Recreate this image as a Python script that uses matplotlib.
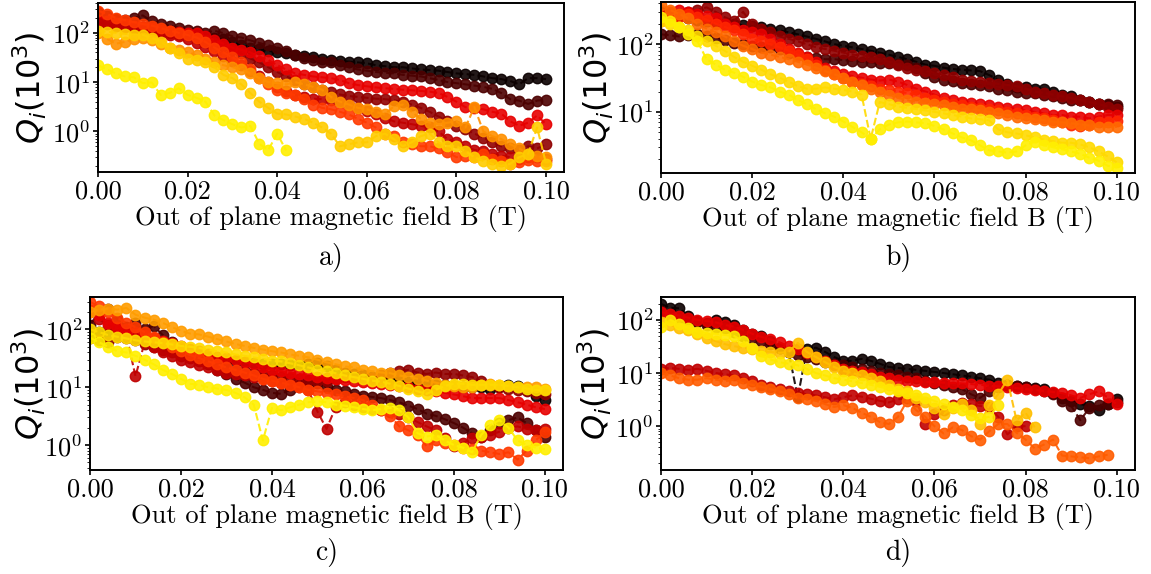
import numpy as np
import matplotlib.pyplot as plt

plt.rcParams['font.family'] = 'serif'
plt.rcParams['font.serif'] = ['cmr10']
plt.rcParams['mathtext.fontset'] = 'cm'
plt.rcParams['axes.formatter.use_mathtext'] = True
plt.rcParams['axes.unicode_minus'] = False
plt.rcParams['axes.linewidth'] = 1.4

# field sweep, 2 mT steps
B = np.linspace(0, 0.1, 51)

# a) internal quality factor Q_i (x 10^3), one list per resonator
a_black = [260, 215, 190, 165, 145, 130, 120, 110, 102, 96, 90, 88, 85, 80, 76, 64, 56, 50, 46, 43,
           40, 38, 36, 34, 32, 30, 28, 27, 26, 25, 24, 22, 21, 20, 20, 19, 18, 17.5, 17, 16,
           15, 14.5, 14, 13, 12, 11.5, 10.5, 9, 12, 12, 11.5]
a_brown = [220, 200, 190, 185, 200, 225, 170, 150, 140, 125, 115, 108, 100, 110, 98, 85, 80, 70, 62, 56,
           50, 42, 36, 31, 28, 26, 25, 22, 20, 18, 17, 16, 15.5, 15, 14, 13.5, 13, 12, 11, 10,
           9.5, 9, 8.5, 8, 7.3, 6, 4.5, 4.2, 3.6, 4.2, 4.4]
a_darkred = [170, 160, 150, 140, 130, 120, 115, 110, 100, 95, 88, 80, 70, 62, 55, 45, 38, 30, 25, 20,
             16, 13, 11, 9, 8, 7, 6.2, 5.6, 5.2, 5.0, 4.8, 4.6, 4.5, 4.3, 4.0, 3.5, 3.0, 2.5, 2.0, 1.6,
             1.3, 1.1, 0.9, 0.75, 0.6, 0.5, 0.45, 0.42, 0.5, 0.45, 0.55]
a_red = [180, 170, 160, 150, 140, 130, 125, 115, 110, 105, 100, 98, 85, 70, 60, 50, 45, 40, 33, 28,
         22, 18, 15, 14, 13, 12.5, 12, 11, 9.5, 8.7, 8.2, 7.8, 7.5, 7.3, 7.0, 6.8, 6.6, 6.4, 6.0, 5.0,
         4.0, 3.1, 3.0, 2.8, 2.5, 2.3, 1.6, 1.3, 1.5, 2.1, 1.4]
a_crimson = [160, 150, 140, 130, 120, 110, 105, 100, 92, 85, 75, 62, 52, 42, 34, 27, 22, 17, 13, 10,
             8, 6.5, 5.5, 5.0, 4.6, 4.5, 4.3, 4.0, 3.5, 3.0, 2.6, 2.2, 1.9, 1.6, 1.5, 1.4, 1.3, 1.2, 1.0, 0.7,
             0.6, 0.5, 0.42, 0.4, 0.35, 0.32, 0.3, 0.28, 0.3, 0.3, 0.28]
a_orangered = [280, 240, 200, 180, 165, 150, 140, 125, 110, 100, 90, 80, 65, 50, 40, 32, 25, 18, 12, 9,
               7, 6, 5.5, 4.5, 3.5, 3.0, 2.8, 2.5, 2.2, 1.8, 1.5, 1.2, 0.9, 0.8, 0.6, 0.55, 0.5, 0.5, 0.45, 0.38,
               0.3, 0.32, 0.3, 0.35, 0.28, 0.25, 0.22, 0.24, 0.26, 0.25, 0.25]
a_orange = [100, 75, 60, 65, 75, 80, 70, 60, 50, 45, 40, 35, 30, 25, 22, 20, 18, 15, 12, 10,
            9.5, 9, 10, 9, 8, 7, 5, 4, 3.5, 3, 2.8, 2.5, 2.2, 3.2, 3.5, 2.5, 1.8, 1.5, 1.4, 1.5,
            1.6, 1.2, 3.1, 1.0, 0.8, 0.7, 0.55, 0.45, 0.35, 0.32, 0.3]
a_gold = [110, 105, 100, 95, 92, 90, 80, 65, 50, 38, 30, 28, 25, 20, 14, 12, 9, 6, 4, 3,
          2.3, 2.2, 2.0, 1.8, 1.5, 1.2, 0.9, 0.5, 0.55, 0.6, 0.6, 0.8, 0.9, 0.7, 0.5, 0.6, 0.8, 0.9, 0.6, 0.5,
          0.5, 0.4, 0.3, 0.25, 0.22, 0.2, 0.22, 0.3, 0.35, 1.2, 0.22]
a_yellow = [22, 18, 15, 13, 12.5, 9.5, 9.8, 5.5, 6, 7.5, 5.5, 4.8, 4.0, 2.1, 1.7, 1.4, 1.2, 1.3, 0.56, 0.42,
            0.9, 0.41]

# b)
b_black = [300, 280, 260, 240, 230, 220, 210, 200, 200, 190, 185, 180, 170, 160, 150, 140, 130, 120, 110, 100,
           95, 90, 85, 80, 75, 70, 65, 60, 55, 50, 48, 45, 43, 42, 41, 40, 35, 30, 26, 23,
           23, 22, 22, 20, 18, 17, 15, 14, 13, 12.5, 12]
b_brown = [140, 135, 130, 135, 140, 130, 125, 115, 105, 100, 95, 92, 90, 85, 75, 70, 65, 62, 60, 60,
           58, 57, 55, 54, 53, 52, 51, 50, 45, 38, 33, 30, 29, 27, 26, 25, 24, 22, 21, 20,
           19, 19, 18, 17, 16, 15, 15, 14, 13, 13, 12.5]
b_darkred = [250, 260, 280, 300, 320, 350, 300, 250, 220, 300, 200, 170, 150, 130, 120, 110, 100, 90, 85, 80,
             75, 70, 68, 65, 60, 55, 50, 45, 42, 40, 38, 35, 33, 30, 29, 28, 27, 26, 25, 24,
             22, 20, 19, 18, 17, 16, 15, 14, 13, 12, 11]
b_red = [280, 300, 320, 300, 280, 260, 240, 200, 180, 160, 150, 140, 120, 100, 85, 75, 65, 55, 45, 40,
         36, 34, 32, 30, 29, 30, 28, 25, 22, 20, 18, 16, 15, 14, 13.5, 13, 12.5, 12, 11.5, 11,
         10.5, 10, 9.5, 9, 9, 8.5, 8.5, 8, 8.5, 9, 9]
b_orangered = [220, 230, 250, 280, 250, 230, 200, 180, 160, 140, 120, 110, 100, 90, 80, 70, 60, 50, 42, 36,
               32, 28, 26, 24, 22, 21, 20, 19, 18, 16, 15, 14, 13, 12.7, 12, 11.5, 11, 10.5, 10, 9.5,
               9, 8.5, 8, 7.5, 7, 6.5, 6.2, 6.5, 7, 7.2, 7.4]
b_orange = [380, 320, 280, 240, 200, 170, 150, 130, 110, 95, 85, 75, 70, 65, 60, 55, 50, 45, 40, 36,
            32, 28, 25, 22, 20, 18, 16, 15, 14, 13.5, 13, 12.5, 12, 11, 11, 10.5, 10, 9.5, 9, 8.5,
            8, 7.8, 7.5, 7.2, 7, 6.8, 6.5, 6.3, 6, 6, 6]
b_gold = [220, 200, 180, 160, 130, 110, 95, 80, 65, 55, 48, 42, 36, 32, 28, 24, 22, 22, 23, 22,
          21, 20, 18, 4, 14, 13, 12, 11.5, 11, 10.5, 10, 9.5, 9, 8.5, 8, 7.8, 7.5, 5.5, 5.0, 4.8,
          4.5, 4.2, 3.9, 3.7, 3.5, 3.5, 3.3, 3.0, 2.6, 2.2, 1.8]
b_yellow = [250, 220, 180, 140, 110, 60, 50, 42, 38, 33, 28, 25, 23, 20, 18, 15, 13, 11, 9.5, 8.5,
            7.2, 6, 5, 4.0, 5.5, 6.5, 7, 7.2, 7, 6.8, 6.2, 5.5, 4.8, 4.2, 3.8, 3.2, 2.7, 2.6, 2.5, 2.6,
            3.2, 3.6, 3.2, 3.0, 2.8, 2.6, 2.4, 2.1, 1.9, 1.6, 1.5]

# c)
c_black = [95, 90, 85, 80, 75, 70, 62, 55, 52, 48, 44, 40, 36, 33, 30, 29, 28, 27, 26, 25,
           25, 25, 24, 24, 25, 26, 23, 20, 18, 17, 16, 15, 15, 14, 13, 12.5, 12, 11.5, 11, 11,
           10.5, 10, 10, 10, 9.5, 10, 11, 10.5, 9, 7, 6]
c_brown = [120, 200, 230, 150, 110, 130, 100, 115, 80, 60, 45, 38, 30, 25, 20, 17, 14, 12, 10, 9,
           8, 7.7, 9, 11, 13, 12, 10, 9, 8.5, 7.7, 7.2, 6.8, 6.5, 6, 5.5, 4.8, 4.2, 3.5, 3.2, 2.8,
           2.4, 2.0, 1.6, 1.4, 1.8, 2.4, 2.7, 3.0, 2.4, 1.8, 1.4]
c_darkred = [70, 65, 60, 75, 70, 65, 55, 50, 45, 40, 35, 32, 28, 26, 24, 22, 20, 19, 18, 17,
             16, 15, 14.5, 14, 13.5, 13, 13, 14, 15, 15, 14, 14.5, 16, 18, 19, 20, 18, 17, 18, 17,
             17, 16, 15, 13, 11, 10, 9.5, 9, 8.5, 8, 7.7]
c_crimson = [200, 150, 120, 100, 80, 15.5, 60, 50, 40, 35, 30, 27, 24, 22, 20, 18, 17, 16, 15, 14,
             13, 12, 11, 10, 9, 3.8, 1.9, 4.5, 5.5, 5.0, 4.5, 4.2, 4.0, 3.8, 3.5, 3.0, 2.5, 2.1, 1.8, 1.3,
             0.95, 1.1, 1.3, 1.4, 1.5, 1.7, 2.0, 2.1, 1.9, 1.8, 1.9]
c_red = [220, 180, 130, 110, 100, 90, 80, 70, 62, 58, 52, 46, 42, 38, 34, 32, 30, 27, 25, 22,
         20, 19, 18, 17, 16, 15, 14.5, 14, 13.5, 13, 12.5, 12, 11.5, 11, 10.5, 10, 9.5, 9, 8.5, 8,
         7.5, 7, 6.5, 6.5, 6.5, 6.5, 6, 5.5, 5, 4.5, 4.2]
c_orangered = [300, 250, 200, 160, 130, 110, 90, 75, 60, 50, 42, 36, 32, 28, 25, 22, 20, 18, 16, 14,
               13, 12, 11, 10, 9, 8.5, 8, 7.5, 7, 6.5, 6, 5, 4, 3.2, 2.1, 1.8, 1.5, 0.95, 1.2, 1.1,
               1.0, 0.9, 0.85, 0.8, 0.75, 0.7, 0.75, 0.56, 0.8, 1.2, 1.7]
c_orange = [200, 220, 230, 220, 236, 180, 160, 148, 130, 110, 95, 85, 82, 75, 68, 62, 56, 52, 48, 45,
            42, 40, 37, 35, 33, 30, 27, 25, 23, 22, 20, 19, 18, 17.5, 16, 15, 14, 13, 12, 11,
            10.5, 10, 10, 11, 11.5, 11, 10.5, 10, 10, 10, 9.5]
c_gold = [100, 90, 80, 75, 70, 65, 62, 60, 58, 55, 52, 50, 48, 45, 42, 40, 37, 35, 33, 31,
          29, 28, 26, 24, 22, 20, 19, 17.5, 16, 15, 14, 13, 12.5, 11.5, 10.5, 9.5, 8.5, 7.7, 9, 10.5,
          11.5, 11.5, 11, 11, 11, 11, 10.5, 10, 9.5, 9, 9]
c_yellow = [72, 60, 50, 42, 40, 35, 30, 25, 20, 17, 14, 11.5, 11, 10, 9.5, 9, 8, 6.7, 5.0, 1.2,
            4.4, 4.0, 4.5, 5.0, 5.5, 5.7, 5.5, 5.0, 4.8, 4.5, 4.2, 4.0, 4.2, 4.4, 4.0, 3.0, 1.6, 1.4, 1.5, 1.2,
            1.0, 0.9, 0.75, 1.5, 2.2, 2.7, 2.0, 1.2, 1.0, 0.9, 0.85]

# d)
d_black = [200, 170, 165, 120, 95, 87, 100, 90, 80, 65, 55, 50, 40, 30, 25, 3.5, 28, 30, 25, 20,
           17, 17, 18.5, 17, 15, 13, 12.5, 12, 11.5, 11, 10.5, 10, 9.5, 9, 8.6, 8, 7.5, 6.5, 6.0, 5.8,
           5.5, 5.2, 5.0, 4.2, 3.4, 3.0, 2.6, 2.4, 2.0, 2.6, 3.2]
d_brown = [150, 120, 110, 100, 90, 80, 75, 70, 60, 50, 45, 40, 35, 30, 25, 22, 20, 18, 16, 15,
           14, 13, 12, 11, 10, 9.5, 9, 8.5, 8, 7, 6.5, 6, 5.5, 5, 4, 3.4, 4.5, 5.5, 6, 5.8,
           5.5, 5.0, 4.5, 4.0, 3.0, 2.4, 1.3, 2.2, 2.5, 2.6, 2.8]
d_darkred = [12, 12.5, 12, 11.5, 12, 11, 10, 9.5, 9, 8, 7, 6, 5.5, 5, 4.5, 4.2, 4.0, 3.8, 3.5, 3.2,
             3.5, 3.8, 3.6, 3.3, 3.0, 2.8, 3.2, 3.4, 3.0, 1.1, 1.7, 2.0, 2.5, 2.7, 2.6, 2.4, 2.3, 1.5, 0.7, 1.0,
             1.0]
d_red = [140, 130, 120, 110, 100, 95, 90, 80, 75, 65, 55, 48, 43, 38, 32, 28, 24, 20, 17, 14,
         12, 11, 10.5, 9.5, 8.5, 8, 7.5, 7.2, 7, 6.8, 6.8, 6.6, 6.5, 6.4, 6.2, 6, 5.8, 5.6, 5.4, 5.2,
         5.0, 4.8, 4.6, 4.4, 4.2, 3.8, 3.4, 4.0, 4.5, 3.5, 2.6]
d_orange = [10, 9, 8, 7.5, 7.5, 8, 7.5, 7, 7.5, 6.5, 6, 5.5, 5, 4.5, 4, 3.4, 3.2, 3.0, 2.6, 2.3,
            2.5, 2.2, 1.8, 1.5, 1.2, 1.1, 1.5, 3.0, 2.0, 1.5, 1.0, 0.73, 0.95, 0.85, 0.65, 0.56, 0.8, 1.1, 1.1, 0.75,
            0.56, 0.38, 0.45, 0.56, 0.28, 0.27, 0.26, 0.25, 0.27, 0.29]
d_gold = [90, 80, 70, 65, 55, 45, 40, 35, 32, 30, 28, 26, 25, 24, 25, 37, 25, 20, 16, 13,
          11, 10, 9, 8, 7, 6, 5, 4.5, 3.4, 2.8, 2.2, 1.7, 2.2, 2.6, 2.0, 1.1, 2.5, 4.0, 7.5, 1.3,
          1.8, 0.95]
d_yellow = [75, 100, 85, 70, 60, 57, 55, 52, 50, 40, 30, 21, 18, 16, 15, 14, 12, 10, 9, 8,
            7.5, 7, 6.5, 6, 5.5, 5, 4.6, 4.2, 3.8, 3.4, 3.0, 2.6, 2.3, 2.0, 1.6, 1.4, 1.5, 2.5]

panels = {
    'a)': [a_black, a_brown, a_darkred, a_red, a_crimson, a_orangered, a_orange, a_gold, a_yellow],
    'b)': [b_black, b_brown, b_darkred, b_red, b_orangered, b_orange, b_gold, b_yellow],
    'c)': [c_black, c_brown, c_darkred, c_crimson, c_red, c_orangered, c_orange, c_gold, c_yellow],
    'd)': [d_black, d_brown, d_darkred, d_red, d_orange, d_gold, d_yellow],
}
# position of each resonator on the 'hot' colour map
levels = {
    'a)': [0.0, 0.1, 0.2, 0.33, 0.27, 0.45, 0.58, 0.67, 0.72],
    'b)': [0.0, 0.1, 0.2, 0.33, 0.42, 0.52, 0.69, 0.72],
    'c)': [0.0, 0.1, 0.2, 0.27, 0.33, 0.45, 0.6, 0.69, 0.72],
    'd)': [0.0, 0.1, 0.27, 0.33, 0.5, 0.65, 0.71],
}
ylims = {'a)': (0.15, 400), 'b)': (1.25, 420), 'c)': (0.37, 365), 'd)': (0.15, 270)}

fig = plt.figure(figsize=(11.51, 5.74), dpi=100)
rects = {
    'a)': [0.0851, 0.7003, 0.4049, 0.2944],
    'b)': [0.5743, 0.6986, 0.4118, 0.2979],
    'c)': [0.0782, 0.1812, 0.4110, 0.3014],
    'd)': [0.5743, 0.1812, 0.4118, 0.3014],
}
ylabel_x = {'a)': -0.105, 'b)': -0.095, 'c)': -0.088, 'd)': -0.10}
cmap = plt.get_cmap('hot')

for name, series in panels.items():
    ax = fig.add_axes(rects[name])
    for q, lev in zip(series, levels[name]):
        ax.plot(B[:len(q)], q, '--o', color=cmap(lev), ms=7.5, lw=1.5, alpha=0.9)
    ax.set_yscale('log')
    ax.set_xlim(0, 0.104)
    ax.set_ylim(*ylims[name])
    ax.set_xticks([0, 0.02, 0.04, 0.06, 0.08, 0.10])
    ax.set_xticklabels(['0.00', '0.02', '0.04', '0.06', '0.08', '0.10'])
    ax.tick_params(labelsize=19, width=1.2, pad=2)
    ax.set_xlabel('Out of plane magnetic field B (T)', fontsize=19, labelpad=1)
    ax.set_ylabel(r'$Q_i(10^3)$', fontsize=23, math_fontfamily='dejavusans')
    ax.yaxis.set_label_coords(ylabel_x[name], 0.5)
    x0, y0, w, h = rects[name]
    fig.text(x0 + w / 2, 0.551 if y0 > 0.5 else 0.037, name, ha='center', va='center', fontsize=20)

fig.savefig('out.png', dpi=100)
